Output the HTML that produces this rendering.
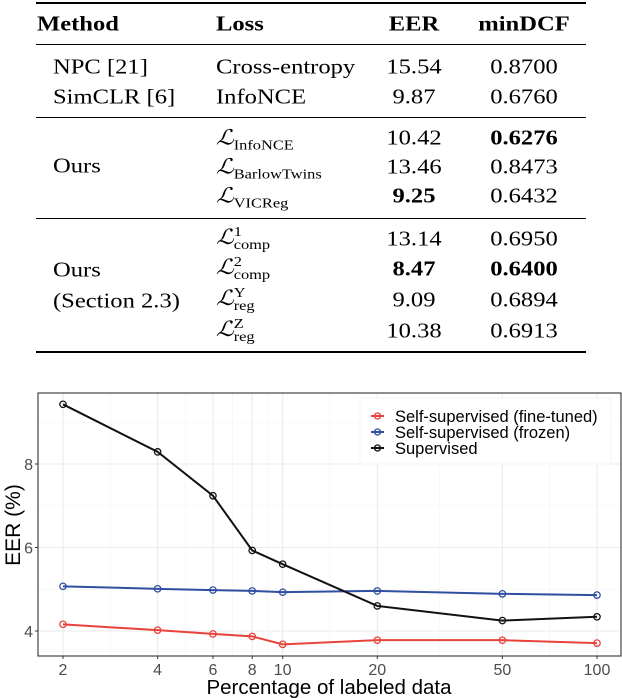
<!DOCTYPE html>
<html><head><meta charset="utf-8"><style>
body{margin:0;width:622px;height:698px;background:#fff;overflow:hidden;position:relative;font-family:"Liberation Serif","DejaVu Serif",serif;}
.t{position:absolute;font-size:21px;color:#000;white-space:nowrap;line-height:1;transform:translateY(-50%) scaleX(1.17);transform-origin:left center;}
.b{font-weight:bold}
.c{text-align:center;width:100px;margin-left:-50px;transform-origin:center center}
.rule{position:absolute;left:36px;width:550px;background:#000;}
.L{font-family:"DejaVu Serif",serif;font-style:italic;}
sub,sup{font-size:14px;line-height:0;}
.ss{display:inline-block;vertical-align:middle;line-height:13px;font-size:14px;}
</style></head><body>
<div>
<div class="rule" style="top:2px;height:2px"></div>
<div class="rule" style="top:44px;height:1px"></div>
<div class="rule" style="top:117px;height:1px"></div>
<div class="rule" style="top:218px;height:1px"></div>
<div class="rule" style="top:351px;height:2px"></div>

<div class="t b" style="left:37px;top:24px">Method</div>
<div class="t b" style="left:216px;top:24px">Loss</div>
<div class="t b c" style="left:414px;top:24px">EER</div>
<div class="t b c" style="left:524px;top:24px">minDCF</div>

<div class="t" style="left:53px;top:67px">NPC [21]</div>
<div class="t" style="left:216px;top:67px">Cross-entropy</div>
<div class="t c" style="left:414px;top:67px">15.54</div><div class="t c" style="left:524px;top:67px">0.8700</div>
<div class="t" style="left:53px;top:97px">SimCLR [6]</div>
<div class="t" style="left:216px;top:97px">InfoNCE</div>
<div class="t c" style="left:414px;top:97px">9.87</div><div class="t c" style="left:524px;top:97px">0.6760</div>

<div class="t" style="left:53px;top:166px">Ours</div>
<div class="t" style="left:216px;top:138px"><span class="L">ℒ</span><sub>InfoNCE</sub></div>
<div class="t c" style="left:414px;top:138px">10.42</div><div class="t c b" style="left:524px;top:138px">0.6276</div>
<div class="t" style="left:216px;top:167px"><span class="L">ℒ</span><sub>BarlowTwins</sub></div>
<div class="t c" style="left:414px;top:167px">13.46</div><div class="t c" style="left:524px;top:167px">0.8473</div>
<div class="t" style="left:216px;top:196px"><span class="L">ℒ</span><sub>VICReg</sub></div>
<div class="t c b" style="left:414px;top:196px">9.25</div><div class="t c" style="left:524px;top:196px">0.6432</div>

<div class="t" style="left:53px;top:270px">Ours</div>
<div class="t" style="left:53px;top:301px">(Section 2.3)</div>
<div class="t" style="left:216px;top:239px"><span class="L">ℒ</span><span class="ss">1<br>comp</span></div>
<div class="t c" style="left:414px;top:239px">13.14</div><div class="t c" style="left:524px;top:239px">0.6950</div>
<div class="t" style="left:216px;top:269px"><span class="L">ℒ</span><span class="ss">2<br>comp</span></div>
<div class="t c b" style="left:414px;top:269px">8.47</div><div class="t c b" style="left:524px;top:269px">0.6400</div>
<div class="t" style="left:216px;top:300px"><span class="L">ℒ</span><span class="ss">Y<br>reg</span></div>
<div class="t c" style="left:414px;top:300px">9.09</div><div class="t c" style="left:524px;top:300px">0.6894</div>
<div class="t" style="left:216px;top:331px"><span class="L">ℒ</span><span class="ss">Z<br>reg</span></div>
<div class="t c" style="left:414px;top:331px">10.38</div><div class="t c" style="left:524px;top:331px">0.6913</div>
</div>

<svg id="chart" width="622" height="698" style="position:absolute;left:0;top:0" font-family="Liberation Sans, sans-serif"></svg>
<script>
const categories=[2,4,6,8,10,20,50,100];
const fineTuned=[4.16,4.02,3.93,3.87,3.68,3.78,3.78,3.71];
const frozen=[5.07,5.01,4.98,4.96,4.93,4.96,4.89,4.86];
const supervised=[9.43,8.29,7.24,5.93,5.60,4.60,4.25,4.34];
const yTicks=[4,6,8];
const seriesNames=["Self-supervised (fine-tuned)","Self-supervised (frozen)","Supervised"];
const seriesColors=["#e8433b","#2f4fa0","#111111"];

const svg=document.getElementById('chart');
const NS="http://www.w3.org/2000/svg";
const L=38,R=621,T=393,B=656;
const x=v=>63+(Math.log10(v)-Math.log10(2))*(534/(2-Math.log10(2)));
const y=v=>631-(v-4)*41.75;
function el(tag,attrs,parent){const e=document.createElementNS(NS,tag);for(const k in attrs)e.setAttribute(k,attrs[k]);(parent||svg).appendChild(e);return e;}
for(let i=0;i<categories.length-1;i++){const xm=Math.sqrt(categories[i]*categories[i+1]);
 const g=el('line',{x1:x(xm),x2:x(xm),y1:T,y2:B,stroke:'#f2f2f2','stroke-width':0.6});
 
 }
[3.5,5,7,9].forEach(v=>{if(y(v)>T&&y(v)<B){const g=el('line',{x1:L,x2:R,y1:y(v),y2:y(v),stroke:'#f2f2f2','stroke-width':0.6});
 
 }});
categories.forEach(c=>{const g=el('line',{x1:x(c),x2:x(c),y1:T,y2:B,stroke:'#ebebeb','stroke-width':1.1});
 
 
 const tk=el('line',{x1:x(c),x2:x(c),y1:B,y2:B+3,stroke:'#333','stroke-width':1});
 
 
 const t=el('text',{x:x(c),y:B+19,'text-anchor':'middle','font-size':16,fill:'#4d4d4d'});t.textContent=c;
 
 });
yTicks.forEach(v=>{const g=el('line',{x1:L,x2:R,y1:y(v),y2:y(v),stroke:'#ebebeb','stroke-width':1.1});
 
 
 const tk=el('line',{x1:L-3,x2:L,y1:y(v),y2:y(v),stroke:'#333'});
 
 
 const t=el('text',{x:L-5,y:y(v)+6,'text-anchor':'end','font-size':16,fill:'#4d4d4d'});t.textContent=v;
 
 });
const frame=el('rect',{x:L,y:T,width:R-L,height:B-T,fill:'none',stroke:'#333','stroke-width':1.1});


[fineTuned,frozen,supervised].forEach((s,si)=>{
 const p=el('polyline',{points:s.map((v,i)=>x(categories[i])+','+y(v)).join(' '),fill:'none',stroke:seriesColors[si],'stroke-width':2});
 
 
 s.forEach((v,i)=>{const c=el('circle',{cx:x(categories[i]),cy:y(v),r:3.2,fill:'none',stroke:seriesColors[si],'stroke-width':1.3});
  
  });});
const lg=el('rect',{x:360,y:398,width:251,height:66,fill:'#fff',stroke:'#f5f5f5'});


seriesNames.forEach((n,i)=>{const yy=416+i*16;
 const k=el('line',{x1:371,x2:384,y1:yy,y2:yy,stroke:seriesColors[i],'stroke-width':2});
 
 
 el('circle',{cx:377.5,cy:yy,r:3,fill:'none',stroke:seriesColors[i],'stroke-width':1.3});
 const t=el('text',{x:395,y:yy+6,'font-size':16.5,fill:'#000'});t.textContent=n;
 
 });
const xt=el('text',{x:329,y:694,'text-anchor':'middle','font-size':20.5,fill:'#000'});xt.textContent='Percentage of labeled data';


const yt=el('text',{x:0,y:0,'text-anchor':'middle','font-size':21,fill:'#000',transform:'translate(20,525) rotate(-90)'});yt.textContent='EER (%)';


</script>
</body></html>
